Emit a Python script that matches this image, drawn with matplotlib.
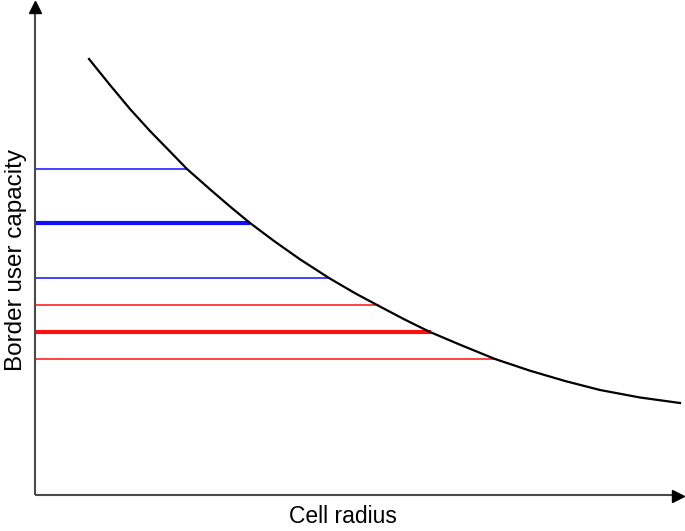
import matplotlib
matplotlib.use("Agg")
import matplotlib.pyplot as plt

# Curve: border user capacity versus cell radius (schematic units)
curve_radius = [54, 75, 95, 115, 135, 152, 175, 195, 215, 240, 265, 294, 320, 343,
                370, 395, 425, 460, 495, 530, 565, 605, 645]
curve_capacity = [436, 410, 386, 364, 343.5, 326, 305.7, 288.5, 272, 253.3, 235.7, 217,
                  201.8, 189.5, 175.3, 163, 150.3, 136, 124.3, 114, 105, 97.5, 92]

# Horizontal levels (capacity) and where they meet the curve (radius)
blue_levels = [326, 272, 217]
blue_ends = [152, 215, 294]
blue_widths = [1.1, 3.0, 1.1]
red_levels = [190, 163, 136]
red_ends = [344, 396, 462]
red_widths = [1.1, 3.0, 1.1]

x_label = "Cell radius"
y_label = "Border user capacity"

plt.rcParams['font.family'] = ['Liberation Sans', 'DejaVu Sans']
fig = plt.figure(figsize=(6.85, 5.31), dpi=100)
ax = fig.add_axes([0, 0, 1, 1])
ax.set_xlim(-35, 650)
ax.set_ylim(-36, 495)
ax.axis('off')

for lvl, end, lw in zip(blue_levels, blue_ends, blue_widths):
    ax.plot([0, end], [lvl, lvl], color='#1010ff', lw=lw, solid_capstyle='butt', zorder=2)
for lvl, end, lw in zip(red_levels, red_ends, red_widths):
    ax.plot([0, end], [lvl, lvl], color='#ff1010', lw=lw, solid_capstyle='butt', zorder=2)

ax.plot(curve_radius, curve_capacity, color='black', lw=1.6, zorder=3,
        solid_joinstyle='round')

# axes with arrows
axis_col = '#4a4a4a'
ax.plot([0, 0], [0, 484], color=axis_col, lw=1.5, solid_capstyle='butt', zorder=4)
ax.plot([0, 640], [0, 0], color=axis_col, lw=1.5, solid_capstyle='butt', zorder=4)
ax.plot([0], [488.5], marker='^', color='black', markersize=9, zorder=5)
ax.plot([643], [-1], marker='>', color='black', markersize=9, zorder=5)

ax.text(308, -28, x_label, ha='center', va='baseline', fontsize=16.5)
ax.text(-18.5, 235, y_label, ha='center', va='center', rotation=90, fontsize=17.5)

fig.savefig("out.png", dpi=100)
